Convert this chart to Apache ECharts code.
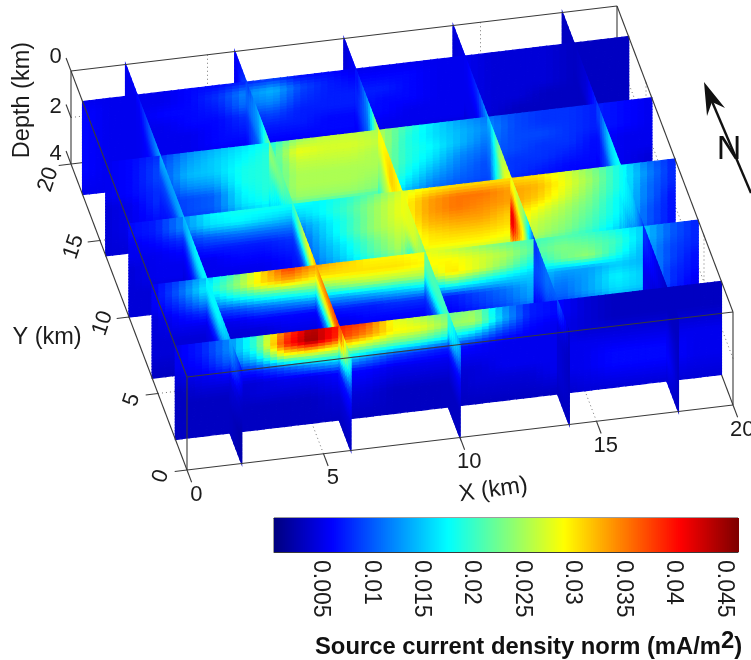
<!DOCTYPE html>
<html><head><meta charset="utf-8">
<style>html,body{margin:0;padding:0;background:#fff}#c{width:751px;height:660px}</style>
<script src="https://cdn.jsdelivr.net/npm/echarts@6/dist/echarts.min.js"></script>
</head><body><div id="c"></div>
<script>
// All current-density values are in units of 0.001 mA/m^2.
const gridX = [0,1,2,3,4,5,6,7,8,9,10,11,12,13,14,15,16,17,18,19,20];
const gridY = [0,2,4,6,8,10,12,14,16,18,20];
const panelDepths = [0,0.5,1,1.5,2,2.5,3,4];
const sliceDepths = [0,0.5,1,1.5,2,3,4];
const panelYs = [18,14,10,6,2];
const sliceXs = [2,6,10,14,18];
const xTicks = [0,5,10,15,20];
const yTicks = [0,5,10,15,20];
const depthTicks = [0,2,4];
const colorTicks = [0.005,0.01,0.015,0.02,0.025,0.03,0.035,0.04,0.045];

const panelY18 = [
[5,5,5,5,6,6,7,8,6,6,5,5,5,5,5,4,4,4,3,3,3],
[6,5,5,5,6,8,12,14,9,7,6,6,6,5,5,4,4,4,3,3,3],
[6,5,5,6,6,7,11,12,8,7,7,7,6,5,5,4,4,4,3,3,3],
[6,5,5,5,6,6,8,9,7,7,7,6,6,5,5,4,4,4,3,3,3],
[6,5,5,5,5,6,7,7,7,6,6,6,5,5,5,4,4,3,3,3,3],
[6,5,5,5,5,6,6,6,6,6,6,5,5,5,5,4,3,3,3,3,3],
[6,5,5,5,5,5,5,5,5,5,5,5,5,4,4,3,3,3,3,3,3],
[5,5,4,4,4,4,4,4,4,4,4,4,4,4,3,3,3,3,3,3,3]];
const panelY14 = [
[5,6,8,12,14,16,18,24,26,26,25,20,16,13,11,9,8,8,7,6,5],
[5,6,9,13,15,17,19,28,27,27,26,19,16,14,12,9,8,8,7,6,5],
[5,6,9,14,15,18,19,26,26,26,25,19,17,14,11,9,9,8,7,6,5],
[5,6,8,12,13,18,19,25,25,25,25,19,16,12,10,9,8,8,6,5,5],
[4,5,8,9,10,17,19,25,25,25,24,18,14,11,9,8,8,7,6,5,5],
[4,5,7,9,10,16,18,24,24,24,23,16,12,10,9,8,7,6,6,5,4],
[4,5,6,8,8,13,15,18,18,18,18,13,10,9,8,7,6,6,5,5,4],
[4,4,5,6,6,9,10,12,12,12,12,9,8,7,6,6,5,5,4,4,4]];
const panelY10 = [
[6,7,12,17,18,18,18,17,19,22,27,29,30,30,30,30,27,23,18,11,7],
[6,7,12,16,17,16,15,17,20,24,28,33,35,35,33,32,28,24,18,12,7],
[5,6,8,10,11,11,11,15,19,24,28,33,35,34,33,31,27,23,18,11,7],
[5,5,6,7,7,7,8,14,19,24,27,32,33,33,31,28,25,22,17,11,6],
[4,5,5,5,6,6,7,13,17,22,26,30,31,31,30,26,24,21,17,10,6],
[4,5,5,5,5,5,6,12,16,21,25,29,29,29,28,25,23,20,16,10,6],
[4,4,4,5,5,5,6,10,14,18,22,25,25,25,24,22,20,18,14,9,6],
[4,4,4,4,4,5,5,8,10,12,14,16,16,16,15,14,12,11,9,7,5]];
const panelY6 = [
[5,9,15,21,30,38,33,31,29,29,28,26,24,22,20,21,20,18,15,10,7],
[5,10,17,23,30,33,30,30,30,30,29,29,27,25,21,23,22,20,15,10,7],
[5,8,13,17,20,21,22,24,25,25,25,30,27,23,18,22,24,19,14,9,7],
[4,6,8,9,11,12,13,13,14,15,16,20,18,16,15,13,13,15,14,9,6],
[4,5,5,5,6,6,6,7,7,8,8,7,9,11,14,11,13,17,15,8,6],
[4,4,4,4,4,5,5,5,6,6,6,6,8,10,13,10,13,16,15,8,5],
[4,4,4,4,4,4,4,5,5,5,5,5,6,8,10,8,10,13,12,7,5],
[3,3,3,3,3,4,4,4,4,4,4,4,4,5,6,5,6,8,8,5,4]];
const panelY2 = [
[5,7,12,20,36,44,39,37,28,25,22,24,13,7,6,4,3,3,3,3,3],
[5,7,12,20,38,45,38,34,29,28,24,25,14,7,6,4,3,3,3,3,3],
[5,6,10,15,27,28,26,24,22,21,18,15,9,6,5,4,3,3,3,3,3],
[4,5,6,7,10,13,15,12,9,8,7,6,5,5,5,4,4,4,4,4,4],
[3,4,4,4,5,5,6,6,5,5,5,5,5,5,5,5,5,5,5,5,5],
[3,3,3,4,4,4,5,5,4,4,4,4,5,5,5,5,6,6,6,5,5],
[3,3,3,3,3,3,4,4,3,3,3,4,4,4,5,5,6,6,6,5,5],
[3,3,3,3,3,3,3,3,3,3,3,3,3,3,3,4,4,4,4,4,4]];

const sliceX2 = [
[6,14,17,17,17,14,13,14,10,6,5],
[5,13,17,17,16,13,12,12,9,5,5],
[4,10,13,13,12,8,9,9,7,5,5],
[3,6,7,8,8,6,7,8,6,5,5],
[3,4,5,5,6,5,6,7,6,5,4],
[2,3,3,4,4,4,5,6,5,5,4],
[2,3,3,3,3,4,4,5,5,4,4]];
const sliceX6 = [
[17,38,36,33,27,20,22,22,14,8,5],
[15,36,32,30,24,17,22,24,13,10,5],
[12,26,22,22,15,12,20,22,12,10,5],
[8,15,12,13,9,8,16,20,10,8,5],
[6,7,7,6,6,7,14,19,10,7,5],
[4,4,4,4,5,6,11,15,8,5,4],
[3,3,4,4,5,5,8,10,6,4,4]];
const sliceX10 = [
[13,20,20,22,27,28,30,28,13,6,4],
[12,20,20,22,27,28,31,28,12,6,4],
[9,16,17,19,26,28,31,26,11,7,4],
[6,8,10,13,20,27,28,24,10,7,4],
[5,5,6,8,14,26,26,23,9,6,4],
[3,3,4,5,9,22,22,18,7,5,4],
[3,3,3,4,6,14,14,12,6,4,4]];
const sliceX14 = [
[3,10,11,8,24,28,24,14,8,5,4],
[3,8,11,8,24,30,25,12,7,5,4],
[3,5,10,9,28,36,22,11,6,5,4],
[3,4,8,9,28,42,22,10,5,5,4],
[3,4,5,8,24,42,21,9,5,5,4],
[3,4,4,5,14,30,15,8,4,4,3],
[3,3,3,4,8,15,8,6,4,3,3]];
const sliceX18 = [
[3,3,5,8,15,18,16,8,4,3,3],
[3,3,5,8,15,18,15,8,4,3,3],
[3,3,5,7,14,18,13,7,4,3,3],
[3,4,4,6,12,17,10,6,3,3,3],
[3,5,4,5,10,17,9,6,3,3,3],
[3,6,5,5,8,14,7,5,3,3,3],
[3,4,4,4,6,9,5,4,3,3,3]];

const panels = [panelY18,panelY14,panelY10,panelY6,panelY2];
const slices = [sliceX2,sliceX6,sliceX10,sliceX14,sliceX18];

// Orthographic camera of the 3-D box (km to screen plane)
const camOrigin = [187,377], camX = [27.3,-3.25], camY = [-5.8,-15.3], camD = [0,23.25];
const project = (x,y,d) => [camOrigin[0]+x*camX[0]+y*camY[0]+d*camD[0], camOrigin[1]+x*camX[1]+y*camY[1]+d*camD[1]];
const colorMax = 46;
const FONT = '"Liberation Sans",Arial,sans-serif';
const INK = '#1c1c1c', LINE = '#3a3a3a';

function jet(v){ // v in 0.001 mA/m^2
  const t = Math.max(0,Math.min(1,v/colorMax));
  const ramp = (c)=>Math.round(255*Math.max(0,Math.min(1,1.5-Math.abs(4*t-c))));
  return 'rgb('+ramp(3)+','+ramp(2)+','+ramp(1)+')';
}

// a surface: matrix over (uAxis, dAxis), a mapper to 3-D, u range, and shading sub-division
function surfaceChildren(api, matrix, uAxis, dAxis, toXYD, uLo, uHi, subU, subD){
  const out = [];
  for(let r=0;r<dAxis.length-1;r++){
    for(let c=0;c<uAxis.length-1;c++){
      if(uAxis[c]<uLo||uAxis[c+1]>uHi) continue;
      const u0=uAxis[c],u1=uAxis[c+1],d0=dAxis[r],d1=dAxis[r+1];
      const a=matrix[r][c],b=matrix[r][c+1],e=matrix[r+1][c],f=matrix[r+1][c+1];
      const nd=(d1-d0)>0.75?subD*2:subD;
      for(let i=0;i<subU;i++)for(let j=0;j<nd;j++){
        const s=(i+.5)/subU,t=(j+.5)/nd;
        const val=(a*(1-s)+b*s)*(1-t)+(e*(1-s)+f*s)*t;
        const ua=u0+(u1-u0)*i/subU,ub=u0+(u1-u0)*(i+1)/subU;
        const da=d0+(d1-d0)*j/nd,db=d0+(d1-d0)*(j+1)/nd;
        const col=jet(val);
        out.push({type:'polygon',silent:true,
          shape:{points:[toXYD(ua,da),toXYD(ub,da),toXYD(ub,db),toXYD(ua,db)].map(p=>api.coord(project(p[0],p[1],p[2])))},
          style:{fill:col,stroke:col,lineWidth:1.3}});
      }
    }
  }
  return out;
}

// painter's order, back to front
const layers = [];
const yBreaks = [20,18,14,10,6,2,0];
for(let k=0;k<yBreaks.length-1;k++){
  sliceXs.forEach((sx,i)=>layers.push({kind:'slice',i,x:sx,lo:yBreaks[k+1],hi:yBreaks[k]}));
  if(k<panelYs.length) layers.push({kind:'panel',i:k,y:panelYs[k]});
}

function renderLayer(params,api){
  const L = layers[api.value(0)];
  if(L.kind==='panel'){
    return {type:'group',children:surfaceChildren(api,panels[L.i],gridX,panelDepths,(u,d)=>[u,L.y,d],0,20,4,4)};
  }
  return {type:'group',children:surfaceChildren(api,slices[L.i],gridY,sliceDepths,(u,d)=>[L.x,u,d],L.lo,L.hi,6,3)};
}

// box edges
const backEdges = [
 [[20,20,4],[0,20,4]],[[20,20,4],[20,0,4]],[[20,20,0],[20,20,4]]
];
const gridLines = [];
[5,10,15].forEach(v=>{
  gridLines.push([[v,0,4],[v,20,4]]);       // floor
  gridLines.push([[0,v,4],[20,v,4]]);       // floor
  gridLines.push([[v,20,0],[v,20,4]]);      // back wall
  gridLines.push([[20,v,0],[20,v,4]]);      // right wall
});
[2].forEach(d=>{gridLines.push([[0,20,d],[20,20,d]]);gridLines.push([[20,0,d],[20,20,d]]);});
const frontEdges = [
 [[0,0,0],[20,0,0]],[[0,0,0],[0,20,0]],[[0,20,0],[20,20,0]],[[20,20,0],[20,0,0]],
 [[0,0,0],[0,0,4]],[[20,0,0],[20,0,4]],[[0,20,0],[0,20,4]],
 [[0,0,4],[20,0,4]],[[0,0,4],[0,20,4]]
];
xTicks.forEach(v=>frontEdges.push([[v,0,4],[v,-0.8,4]]));
yTicks.forEach(v=>frontEdges.push([[0,v,4],[-0.45,v,4]]));
depthTicks.forEach(v=>frontEdges.push([[0,20,v],[0,20.85,v]]));

function lineSeries(segs,z,style){
  return {type:'custom',coordinateSystem:'cartesian2d',xAxisIndex:0,yAxisIndex:0,silent:true,clip:false,z,animation:false,
    data:segs.map((s,i)=>[i,0]),
    renderItem(p,api){
      const s=segs[api.value(0)];
      const a=api.coord(project(...s[0])),b=api.coord(project(...s[1]));
      return {type:'line',silent:true,shape:{x1:a[0],y1:a[1],x2:b[0],y2:b[1]},style};
    }};
}

// tick labels and axis titles
const labels = [];
xTicks.forEach(v=>labels.push({t:String(v),p:[v,-1.6,4],r:0,s:22}));
yTicks.forEach(v=>labels.push({t:String(v),p:[-1,v===20?v-0.8:v-0.2,4],r:1.25,s:22}));
depthTicks.forEach(v=>labels.push({t:String(v),p:[-0.35,21,v>0?v+0.17:v],r:0,s:22}));
const axisTitles = [
 {t:'Depth (km)',p:[-1.55,21,1.69],r:Math.PI/2,s:23.5},
 {t:'Y (km)',p:[-3.15,9.3,4],r:0,s:23.5},
 {t:'X (km)',p:[10.47,-3.53,4],r:0.14,s:23.5}
];
axisTitles.forEach(a=>labels.push(a));

// colour bar levels
const colorLevels = [];
for(let i=0;i<256;i++) colorLevels.push((i+0.5)/256*colorMax);

const chart = echarts.init(document.getElementById('c'),null,{renderer:'canvas',width:751,height:660});
chart.setOption({
  animation:false,backgroundColor:'#fff',
  grid:[
    {left:0,top:0,width:751,height:660,show:false},
    {left:274,top:518,width:464,height:34,show:true,borderColor:LINE,borderWidth:1,backgroundColor:'transparent'}
  ],
  xAxis:[
    {gridIndex:0,type:'value',min:0,max:751,show:false},
    {gridIndex:1,type:'value',min:0,max:0.046,position:'bottom',
     axisLine:{onZero:false,show:true,lineStyle:{color:LINE,width:1}},
     axisTick:{show:true,inside:true,length:3,customValues:colorTicks,lineStyle:{color:'#333'}},
     splitLine:{show:false},axisLabel:{show:false}},
    {gridIndex:1,type:'value',min:0,max:0.046,position:'top',
     axisLine:{onZero:false,show:true,lineStyle:{color:LINE,width:1}},
     axisTick:{show:true,inside:true,length:3,customValues:colorTicks,lineStyle:{color:'#333'}},
     splitLine:{show:false},axisLabel:{show:false}}
  ],
  yAxis:[
    {gridIndex:0,type:'value',min:0,max:660,inverse:true,show:false},
    {gridIndex:1,type:'value',min:0,max:1,show:false}
  ],
  series:[
    lineSeries(gridLines,1,{stroke:'#777',lineWidth:1,lineDash:[1,3]}),
    lineSeries(backEdges,1,{stroke:LINE,lineWidth:1.1}),
    {type:'custom',coordinateSystem:'cartesian2d',xAxisIndex:0,yAxisIndex:0,silent:true,clip:false,z:2,animation:false,progressive:0,
     data:layers.map((l,i)=>[i,0]),renderItem:renderLayer},
    lineSeries(frontEdges,3,{stroke:LINE,lineWidth:1.1}),
    {type:'custom',coordinateSystem:'cartesian2d',xAxisIndex:0,yAxisIndex:0,silent:true,clip:false,z:4,animation:false,
     data:labels.map((l,i)=>[i,0]),
     renderItem(p,api){
       const l=labels[api.value(0)],c=api.coord(project(...l.p));
       return {type:'text',silent:true,x:c[0],y:c[1],rotation:l.r,
         style:{text:l.t,fill:INK,font:l.s+'px '+FONT,textAlign:'center',textVerticalAlign:'middle'}};
     }},
    {type:'custom',coordinateSystem:'cartesian2d',xAxisIndex:1,yAxisIndex:1,silent:true,clip:false,z:1,animation:false,
     data:colorLevels.map((v)=>[v/1000,0,v]),
     renderItem(p,api){
       const step=0.046/256,v=api.value(0);
       const a=api.coord([v-step/2,1]),b=api.coord([v+step/2,0]);
       const col=jet(api.value(2));
       return {type:'rect',silent:true,shape:{x:a[0],y:a[1],width:b[0]-a[0]+1,height:b[1]-a[1]},style:{fill:col,stroke:null}};
     }},
    // colour bar tick labels, sitting slightly left of their ticks as in the figure
    {type:'custom',coordinateSystem:'cartesian2d',xAxisIndex:1,yAxisIndex:1,silent:true,clip:false,z:4,animation:false,
     data:colorTicks.map(v=>[v,0]),
     renderItem(p,api){
       const v=api.value(0),c=api.coord([v,0]);
       return {type:'text',silent:true,x:c[0]-4,y:c[1]+8,rotation:-Math.PI/2,
         style:{text:String(v),fill:INK,font:'23px '+FONT,textAlign:'left',textVerticalAlign:'middle'}};
     }}
  ],
  graphic:[
    {type:'line',silent:true,shape:{x1:751,y1:193,x2:708,y2:92},style:{stroke:'#111',lineWidth:2.4},z:10},
    {type:'polygon',silent:true,shape:{points:[[704,82],[707,116],[712,102],[725,108]]},style:{fill:'#111'},z:10},
    {type:'text',silent:true,x:729,y:150,style:{text:'N',fill:'#111',font:'34px '+FONT,textAlign:'center',textVerticalAlign:'middle'},z:10},
    {type:'text',silent:true,x:315,y:629,z:10,style:{
      rich:{a:{font:'bold 23.8px '+FONT,fill:'#111'},s:{font:'bold 23.8px '+FONT,fill:'#111',padding:[0,0,12,0]}},
      text:'{a|Source current density norm (mA/m}{s|2}{a|)}'}}
  ]
});
</script></body></html>
